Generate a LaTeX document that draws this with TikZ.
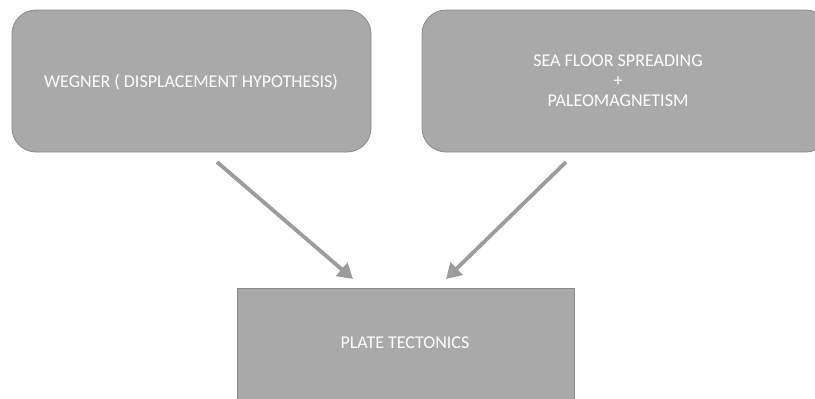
\documentclass[tikz,border=0pt]{standalone}
\usepackage{fontspec}
\setmainfont{Carlito}
\usetikzlibrary{arrows.meta}
\definecolor{boxfill}{HTML}{A9A9A9}
\definecolor{boxline}{HTML}{8A8A8A}
\definecolor{arrowcol}{HTML}{9C9C9C}
\tikzset{
  rbox/.style={draw=boxline, line width=0.8pt, fill=boxfill, rounded corners=24pt},
  sbox/.style={draw=boxline, line width=0.8pt, fill=boxfill},
  lbl/.style={text=white, font=\fontsize{18}{20}\selectfont, align=center, inner sep=0pt},
  conn/.style={draw=arrowcol, line width=3.8pt, -{Triangle[length=15pt,width=17pt]}}
}
\begin{document}
\begin{tikzpicture}[x=1pt,y=-1pt]
\useasboundingbox (0,0) rectangle (815,399);
\draw[rbox] (12,10) rectangle (371,152);
\draw[rbox] (422,10) rectangle (830,152);
\draw[sbox] (237,288) rectangle (574,410);
\node[lbl] (wegner) at (191,82) {WEGNER ( DISPLACEMENT HYPOTHESIS)};
\node[lbl] (sea) at (618,81) {SEA FLOOR SPREADING\\+\\PALEOMAGNETISM};
\node[lbl] (plate) at (405,343) {PLATE TECTONICS};
\coordinate (a1s) at (217,162);
\coordinate (a1e) at (353,279);
\coordinate (a2s) at (566,162);
\coordinate (a2e) at (446,279);
\draw[conn] (a1s) -- (a1e);
\draw[conn] (a2s) -- (a2e);
\end{tikzpicture}
\end{document}
